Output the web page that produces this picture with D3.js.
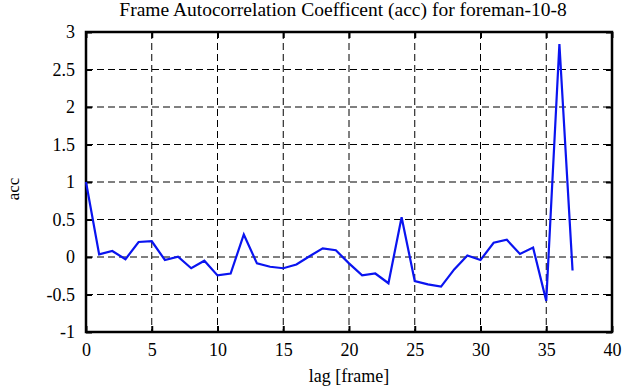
<!DOCTYPE html>
<html lang="en">
<head>
    <meta charset="utf-8">
    <title>acc</title>
    <script src="https://cdn.jsdelivr.net/npm/d3@7"></script>
    <style>
        body { margin: 0; background: #fff; }
        text { font-family: "Liberation Serif", "DejaVu Serif", serif; fill: #000; }
    </style>
</head>
<body>
    <div id="chart"></div>
    <script>
        // lag values 0..37
        var lags = d3.range(0, 38);
        var acc = [1.0, 0.035, 0.08, -0.03, 0.2, 0.21, -0.04, 0.005, -0.15, -0.05,
            -0.245, -0.22, 0.30, -0.085, -0.13, -0.15, -0.1, 0.01, 0.115, 0.09,
            -0.085, -0.245, -0.22, -0.35, 0.53, -0.32, -0.365, -0.395, -0.165, 0.02,
            -0.04, 0.19, 0.23, 0.04, 0.125, -0.585, 2.84, -0.18];
        var xTicks = [0, 5, 10, 15, 20, 25, 30, 35, 40];
        var yTicks = [-1, -0.5, 0, 0.5, 1, 1.5, 2, 2.5, 3];

        var width = 635, height = 387;
        // plot box (note: "top" is reserved on window, so use pl/pr/pt/pb)
        var pl = 86, pr = 612, pt = 32, pb = 332;
        var serif = '"Liberation Serif", "DejaVu Serif", serif';

        var svg = d3.select('#chart').append('svg')
            .attr('width', width).attr('height', height);

        var x = d3.scaleLinear().domain([0, 40]).range([pl, pr]);
        var y = d3.scaleLinear().domain([-1, 3]).range([pb, pt]);

        // grid
        svg.append('g').selectAll('line').data(xTicks.slice(1, -1)).enter().append('line')
            .attr('x1', d => x(d)).attr('x2', d => x(d))
            .attr('y1', pt).attr('y2', pb)
            .attr('stroke', '#000').attr('stroke-width', 1).attr('stroke-dasharray', '7,4');
        svg.append('g').selectAll('line').data(yTicks.slice(1, -1)).enter().append('line')
            .attr('x1', pl).attr('x2', pr)
            .attr('y1', d => y(d)).attr('y2', d => y(d))
            .attr('stroke', '#000').attr('stroke-width', 1).attr('stroke-dasharray', '7,4');

        // axes with inward ticks, both sides
        svg.append('g').attr('transform', `translate(0,${pb})`)
            .call(d3.axisBottom(x).tickValues(xTicks).tickSizeInner(-6).tickSizeOuter(0).tickPadding(11).tickFormat(d3.format('d')));
        svg.append('g').attr('transform', `translate(0,${pt})`)
            .call(d3.axisTop(x).tickValues(xTicks).tickSizeInner(-6).tickSizeOuter(0).tickFormat(''));
        svg.append('g').attr('transform', `translate(${pl},0)`)
            .call(d3.axisLeft(y).tickValues(yTicks).tickSizeInner(-6).tickSizeOuter(0).tickPadding(11).tickFormat(d => String(d)));
        svg.append('g').attr('transform', `translate(${pr},0)`)
            .call(d3.axisRight(y).tickValues(yTicks).tickSizeInner(-6).tickSizeOuter(0).tickFormat(''));

        svg.selectAll('.domain').remove();
        svg.selectAll('g').attr('font-family', serif).attr('font-size', 18);
        svg.selectAll('.tick line').attr('stroke', '#000').attr('stroke-width', 2);

        // border
        svg.append('rect')
            .attr('x', pl).attr('y', pt)
            .attr('width', pr - pl).attr('height', pb - pt)
            .attr('fill', 'none').attr('stroke', '#000').attr('stroke-width', 2.5);

        // series
        var line = d3.line().x((d, i) => x(lags[i])).y(d => y(d));
        svg.append('path').datum(acc)
            .attr('d', line)
            .attr('fill', 'none').attr('stroke', '#0a14f0').attr('stroke-width', 2.2)
            .attr('stroke-linejoin', 'miter');

        // labels
        svg.append('text').attr('x', 343).attr('y', 16).attr('text-anchor', 'middle')
            .style('font-size', '19.5px')
            .text('Frame Autocorrelation Coefficent (acc) for foreman-10-8');
        svg.append('text').attr('x', 349).attr('y', 382).attr('text-anchor', 'middle')
            .style('font-size', '18px').text('lag [frame]');
        svg.append('text').attr('transform', 'translate(19,189) rotate(-90)').attr('text-anchor', 'middle')
            .style('font-size', '17px').text('acc');
    </script>
</body>
</html>
